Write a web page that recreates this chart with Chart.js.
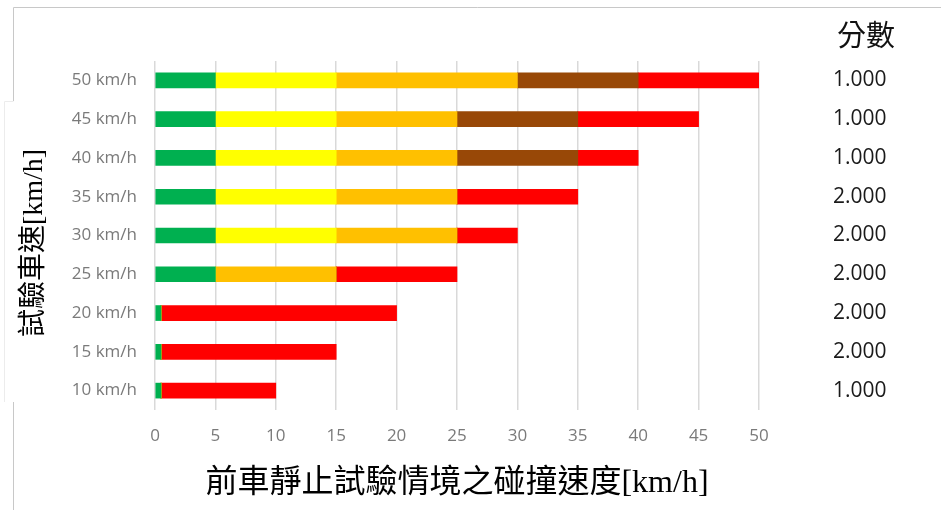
<!DOCTYPE html>
<html>
<head>
<meta charset="utf-8">
<script src="https://cdn.jsdelivr.net/npm/chart.js@4/dist/chart.umd.min.js"></script>
<style>
  body { margin: 0; background: #fff; }
  #wrap { width: 941px; height: 510px; }
</style>
</head>
<body>
<div id="wrap"><canvas id="chart" width="941" height="510"></canvas></div>
<script>
// categories, top to bottom
const speeds = ["50 km/h", "45 km/h", "40 km/h", "35 km/h", "30 km/h", "25 km/h", "20 km/h", "15 km/h", "10 km/h"];
const scores = ["1.000", "1.000", "1.000", "2.000", "2.000", "2.000", "2.000", "2.000", "1.000"];

// stacked segment widths [km/h]
const greenPart = [5, 5, 5, 5, 5, 5, 0.5, 0.5, 0.5];
const yellowPart = [10, 10, 10, 10, 10, 0, 0, 0, 0];
const orangePart = [15, 10, 10, 10, 10, 10, 0, 0, 0];
const brownPart = [10, 10, 10, 0, 0, 0, 0, 0, 0];
const redPart = [10, 10, 5, 10, 5, 10, 19.5, 14.5, 9.5];

const xTicks = [0, 5, 10, 15, 20, 25, 30, 35, 40, 45, 50];

const serifCJK = "'Liberation Serif', 'Noto Sans CJK TC', serif";
const tickFont = "'Open Sans', sans-serif";

// extra text + the light frame lines of the original picture
const extras = {
  id: "extras",
  beforeDraw(chart) {
    const ctx = chart.ctx;
    ctx.save();
    ctx.strokeStyle = "#c8c8c8";
    ctx.lineWidth = 1;
    ctx.beginPath();
    ctx.moveTo(13.5, 7.5);
    ctx.lineTo(941, 7.5);
    ctx.moveTo(13.5, 7.5);
    ctx.lineTo(13.5, 101);
    ctx.moveTo(13.5, 402);
    ctx.lineTo(13.5, 510);
    ctx.stroke();
    ctx.strokeStyle = "#ececec";
    ctx.beginPath();
    ctx.moveTo(4.5, 101.5);
    ctx.lineTo(13.5, 101.5);
    ctx.moveTo(4.5, 101.5);
    ctx.lineTo(4.5, 402);
    ctx.stroke();
    ctx.restore();
  },
  afterDraw(chart) {
    const ctx = chart.ctx;
    ctx.save();
    ctx.fillStyle = "#000";
    ctx.textAlign = "center";
    ctx.textBaseline = "middle";
    ctx.font = "28px " + serifCJK;
    ctx.translate(35, 243);
    ctx.rotate(-Math.PI / 2);
    ctx.fillText("試驗車速[km/h]", 0, 0);
    ctx.restore();

    ctx.save();
    ctx.fillStyle = "#111";
    ctx.textAlign = "center";
    ctx.textBaseline = "middle";
    ctx.font = "29px " + serifCJK;
    ctx.fillText("分數", 866, 38);
    ctx.restore();
  }
};

const seg = (data, color) => ({
  data,
  backgroundColor: color,
  borderWidth: 0,
  barThickness: 15
});

// fixed side widths; drop the label padding chart.js adds above/below
const fixWidth = w => scale => {
  scale.width = w;
  scale.paddingTop = 0;
  scale.paddingBottom = 0;
};

new Chart(document.getElementById("chart"), {
  type: "bar",
  data: {
    labels: speeds,
    datasets: [
      seg(greenPart, "#00B050"),
      seg(yellowPart, "#FFFF00"),
      seg(orangePart, "#FFC000"),
      seg(brownPart, "#984807"),
      seg(redPart, "#FF0000")
    ]
  },
  options: {
    indexAxis: "y",
    responsive: false,
    animation: false,
    layout: { padding: { top: 61, left: 0, right: 0, bottom: 0 } },
    plugins: {
      legend: { display: false },
      tooltip: { enabled: false }
    },
    scales: {
      x: {
        stacked: true,
        min: 0,
        max: 50,
        afterBuildTicks: scale => {
          scale.ticks = xTicks.map(v => ({ value: v }));
        },
        afterFit: scale => {
          scale.height = 100;
        },
        grid: { color: "#d9d9d9", lineWidth: 1.5, drawTicks: false },
        border: { display: false },
        ticks: { color: "#7a7a7a", font: { family: tickFont, size: 17 }, padding: 16 },
        title: {
          display: true,
          text: "前車靜止試驗情境之碰撞速度[km/h]",
          color: "#000",
          font: { family: serifCJK, size: 32 },
          padding: { top: 0, bottom: 7 }
        }
      },
      y: {
        stacked: true,
        afterFit: fixWidth(155),
        grid: { display: false, drawTicks: false },
        border: { display: false },
        ticks: { color: "#7a7a7a", font: { family: tickFont, size: 17 }, padding: 18 }
      },
      y2: {
        type: "category",
        position: "right",
        labels: scores,
        offset: true,
        afterFit: fixWidth(182),
        grid: { display: false, drawTicks: false },
        border: { display: false },
        ticks: { color: "#1a1a1a", font: { family: tickFont, size: 21 }, padding: 74 }
      }
    }
  },
  plugins: [extras]
});
</script>
</body>
</html>
